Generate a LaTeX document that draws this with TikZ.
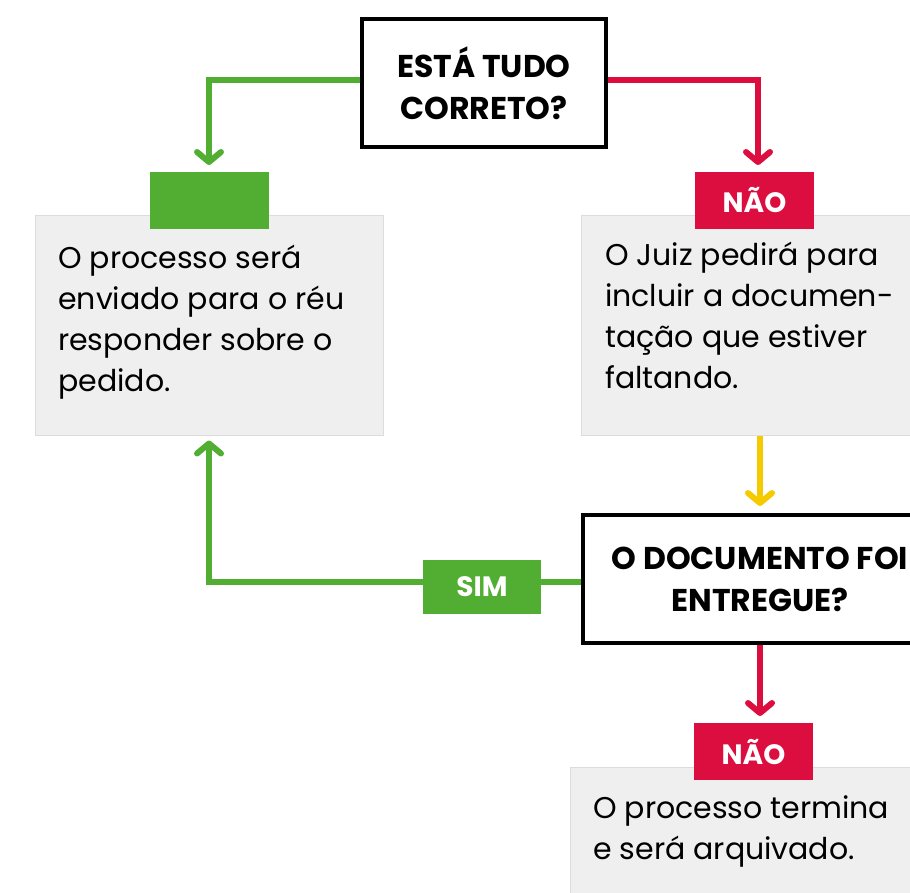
\documentclass[tikz,border=0pt]{standalone}
\usepackage{fontspec}
\setmainfont{Poppins}
\usetikzlibrary{positioning,arrows.meta}
\definecolor{okgreen}{HTML}{52AE32}
\definecolor{nored}{HTML}{DC0E3F}
\definecolor{waityellow}{HTML}{F5CB00}
\definecolor{boxgray}{HTML}{EFEFEF}
\definecolor{edgegray}{HTML}{DCDCDC}

\begin{document}
\begin{tikzpicture}[x=1pt,y=-1pt,
  question/.style={draw=black,line width=4pt,fill=white,minimum width=244pt,
    minimum height=128pt,inner sep=0pt,align=center,
    font=\fontsize{31.5}{42}\selectfont\bfseries},
  infobox/.style={draw=edgegray,line width=1pt,fill=boxgray,minimum width=348pt,
    minimum height=220pt,inner sep=0pt},
  infotext/.style={anchor=north west,inner sep=0pt,align=left,
    font=\fontsize{30}{41}\selectfont},
  tag/.style={minimum width=119pt,minimum height=57pt,inner sep=0pt,text=white,
    font=\fontsize{28}{30}\selectfont\bfseries},
  flow/.style={line width=6pt,-{Straight Barb[length=10pt,width=24pt,round]},shorten >=7pt}]
\useasboundingbox (0,0) rectangle (910,892);
\clip (0,0) rectangle (910,892);
% gray boxes
\node[infobox] (boxA) at (209,325) {};
\node[infobox] (boxB) at (755,325) {};
\node[infobox] (boxC) at (744,877) {};
\node[infotext] (txtA) at (58,245) {O processo será\\enviado para o réu\\responder sobre o\\pedido.};
\node[infotext] (txtB) at (605,242) {O Juiz pedirá para\\incluir a documen-\\tação que estiver\\faltando.};
\node[infotext] (txtC) at (593,795) {O processo termina\\e será arquivado.};
% questions
\node[question] (q1) at (484,83) {ESTÁ TUDO\\CORRETO?};
\node[question,minimum width=354pt] (q2) at (760,579) {O DOCUMENTO FOI\\ENTREGUE?};
% connectors
\draw[flow,okgreen] ([yshift=3pt]q1.west) -| (boxA.north |- 172,172);
\draw[flow,nored] ([yshift=3pt]q1.east) -| (758,172);
\draw[flow,waityellow] (q2.north |- boxB.south) -- (q2.north);
\draw[flow,nored] (q2.south) -- (q2.south |- 0,723);
\draw[line width=6pt,okgreen] ([yshift=-3pt]q2.west) -- ++(-60,0) coordinate (simR);
\draw[flow,okgreen,shorten >=5pt] ([yshift=-3pt]q2.west) ++(-156,0) -| (boxA.south);
% tags
\node[tag,fill=okgreen] (yesA) at (209.5,200.5) {};
\node[tag,fill=nored] (noA) at (754.5,200.5) {NÃO};
\node[tag,fill=okgreen,minimum width=118pt,minimum height=54pt] (sim) at (482,587) {SIM};
\node[tag,fill=nored] (noB) at (753.5,751.5) {NÃO};
\end{tikzpicture}
\end{document}
